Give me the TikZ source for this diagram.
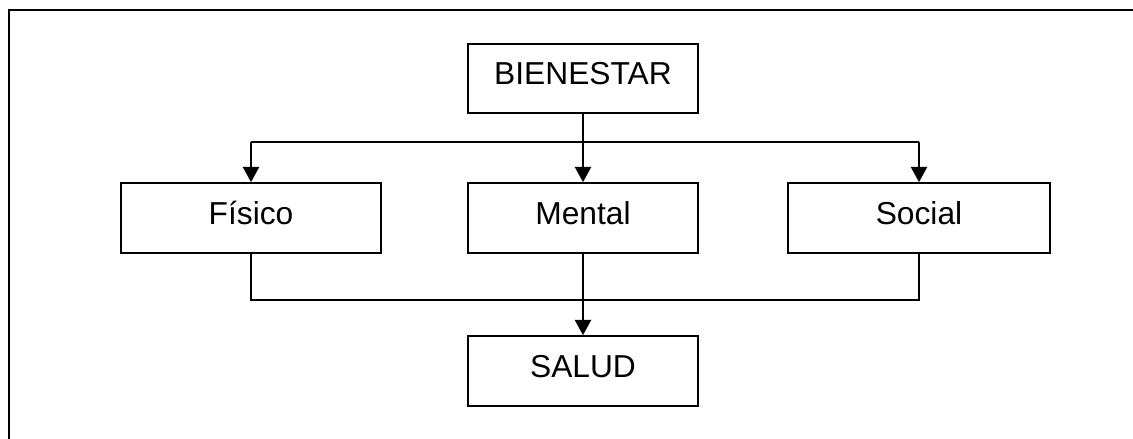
\documentclass[tikz,border=0pt]{standalone}
\usepackage{fontspec}
\setmainfont{Liberation Sans}
\usetikzlibrary{arrows.meta}
\begin{document}
\begin{tikzpicture}[x=0.75pt,y=-0.75pt,
  box/.style={draw,line width=1.7pt,minimum height=52pt,inner sep=0pt,
    font=\fontsize{23.8pt}{28pt}\selectfont,text height=16.8pt,text depth=7.8pt},
  link/.style={line width=1.2pt},
  arrowlink/.style={line width=1.9pt,-{Triangle[width=12pt,length=11.5pt]}}]
\useasboundingbox (0,0) rectangle (1133,439);
\draw[line width=2pt] (9,439) -- (9,10) -- (1133,10);
\node[box,minimum width=172.5pt] (bien) at (583,78.5) {BIENESTAR};
\node[box,minimum width=195pt] (fis) at (251,218) {Físico};
\node[box,minimum width=172.5pt] (men) at (583,218) {Mental};
\node[box,minimum width=196pt] (soc) at (919,218) {Social};
\node[box,minimum width=172pt] (sal) at (583,371) {SALUD};
\coordinate (split) at (583,142);
\coordinate (join) at (583,300);
\draw[link] (fis.north |- split) -- (soc.north |- split);
\draw[arrowlink] (bien.south) -- (men.north);
\draw[arrowlink] (fis.north |- split) -- (fis.north);
\draw[arrowlink] (soc.north |- split) -- (soc.north);
\draw[link] (fis.south) -- (fis.south |- join) -- (soc.south |- join) -- (soc.south);
\draw[arrowlink] (men.south) -- (sal.north);
\end{tikzpicture}
\end{document}
